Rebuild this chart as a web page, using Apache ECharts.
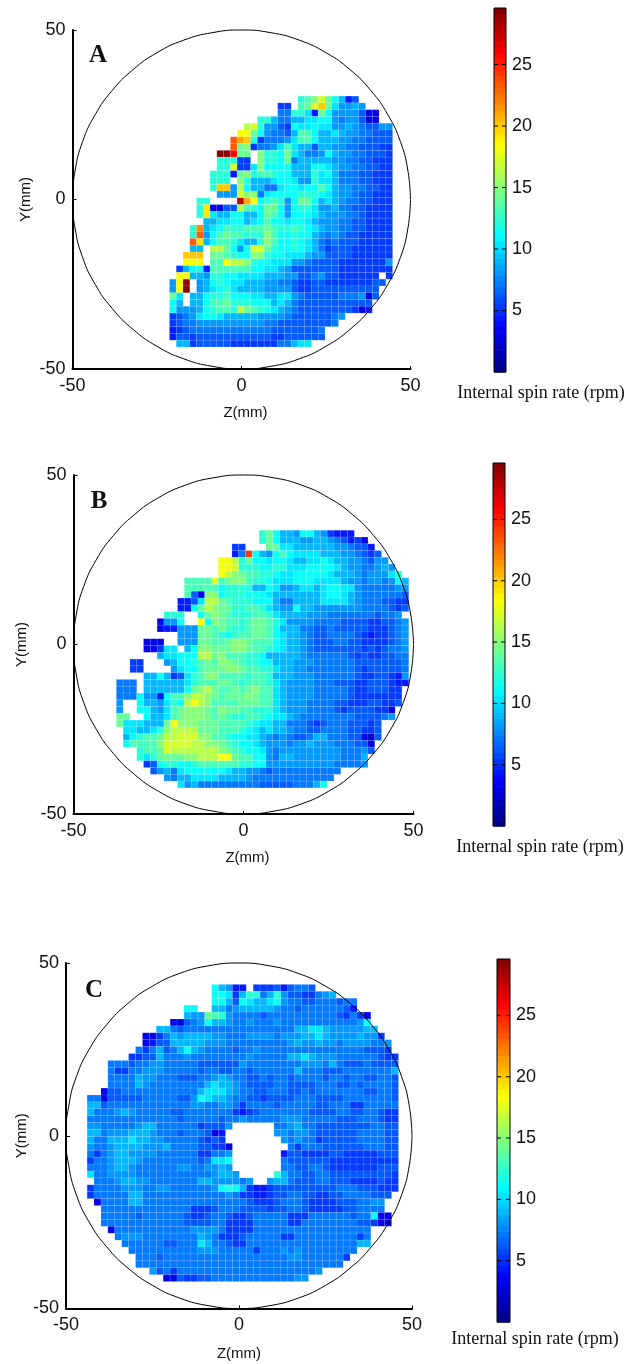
<!DOCTYPE html>
<html><head><meta charset="utf-8">
<style>html,body{margin:0;padding:0;background:#fff}#c{width:640px;height:1364px}</style>
<script src="https://cdn.jsdelivr.net/npm/echarts@6/dist/echarts.min.js"></script>
</head><body><div id="c"></div>
<script>
// Internal spin rate (rpm) on a 2 mm grid. 0 = no reading. Each row: first column index, then values.
const startA=[19,16,16,13,11,10,9,9,7,7,7,6,6,6,7,4,4,4,5,3,3,3,3,2,2,1,1,0,0,0,0,0,0,0,0,0,1];
const rowsA=[
[12,13,15,17,14,11,9,4,6],
[5,5,0,13,14,17,20,14,10,8,8,9,8],
[7,7,12,12,10,4,14,11,8,8,8,8,6,3,3],
[12,12,9,7,7,9,9,10,10,11,11,8,7,8,8,6,3,3],
[16,17,12,8,8,6,5,11,10,10,11,10,10,8,8,9,8,7,6,6,8,8],
[18,18,14,11,8,7,7,6,9,13,13,11,9,9,10,9,8,8,7,7,6,6,6],
[23,21,20,12,5,7,7,7,8,10,13,13,11,9,9,9,8,8,7,7,6,6,6,6],
[23,14,15,5,7,7,8,10,13,10,9,9,6,9,9,8,8,7,7,6,6,6,5,5],
[29,29,26,14,14,0,15,12,12,11,14,10,9,7,7,8,11,9,8,8,7,7,6,6,6,5],
[12,12,12,5,5,0,15,12,12,11,14,7,9,9,9,9,9,8,8,7,7,6,6,5,5,5],
[12,12,17,5,5,10,15,11,11,11,11,9,9,9,11,11,10,9,8,8,7,7,6,6,5,5],
[12,12,12,4,14,15,12,13,13,12,11,11,9,9,9,12,10,11,9,7,7,7,6,6,5,5,5],
[12,12,12,0,15,12,9,9,9,10,11,11,10,8,8,12,10,10,9,7,7,7,6,6,5,5,5],
[12,20,20,8,16,11,9,9,7,7,10,11,11,10,11,11,13,11,9,8,8,7,7,6,6,5,5],
[8,8,8,17,15,15,7,10,11,11,11,11,12,12,12,11,10,9,8,8,7,6,6,5,5,5],
[12,12,0,0,0,0,28,21,18,11,12,13,12,8,11,14,14,11,9,10,9,8,7,7,6,6,5,5,5],
[12,19,3,3,6,6,16,13,12,11,14,14,11,8,11,12,12,10,8,8,9,7,7,6,6,5,5,5,5],
[12,19,10,9,9,11,11,9,9,11,14,13,11,8,11,11,11,10,9,8,8,8,7,7,6,5,5,5,5],
[9,9,10,10,11,11,9,10,11,13,11,11,10,11,11,10,9,8,8,8,7,7,6,6,5,5,5,5],
[12,22,9,10,11,13,12,12,13,13,13,14,13,12,12,13,12,11,10,9,8,8,7,7,6,6,5,5,5,5],
[12,23,8,11,13,14,13,13,12,12,12,15,13,11,11,12,11,11,9,8,7,8,7,6,6,5,5,5,5,5],
[23,19,9,11,13,13,12,10,9,9,12,15,13,11,11,12,11,10,9,7,6,7,6,6,6,5,5,5,5,5],
[9,9,0,16,16,14,11,8,11,17,17,14,12,11,11,12,11,10,9,7,5,6,6,6,5,5,5,5,5,5],
[20,20,20,0,14,14,13,12,11,11,15,15,12,11,11,10,10,10,9,8,8,6,6,6,6,5,5,5,5,5,5],
[18,18,18,0,13,13,18,16,16,15,12,11,11,10,10,10,8,8,7,6,6,6,6,5,5,5,5,5,5,5,8],
[5,9,11,11,4,13,13,13,13,13,13,11,11,10,10,9,8,6,6,6,6,6,6,6,5,5,5,5,5,5,5,5],
[18,18,9,9,8,12,12,11,11,10,10,10,10,9,9,9,8,8,6,6,7,8,6,6,5,5,5,5,5,5,0,5],
[8,18,29,0,8,9,11,12,11,10,10,9,9,9,8,8,7,7,6,5,5,6,6,5,5,5,5,5,5,5,6,6],
[8,18,29,0,8,9,10,11,12,10,9,9,9,9,8,8,8,8,6,5,5,6,6,6,6,6,6,6,6,6,6],
[14,10,0,9,9,11,12,12,13,11,11,11,10,10,9,9,10,10,8,7,6,6,6,6,6,7,7,7,8,3,6],
[11,9,0,9,9,11,13,13,14,12,12,12,11,11,11,9,10,9,7,6,6,6,6,6,6,6,6,6,6,6],
[11,8,8,8,9,11,12,13,13,12,16,14,13,12,11,10,9,8,7,6,6,6,6,6,6,6,6,5,3,4],
[5,6,7,8,10,11,11,10,9,9,9,9,9,8,8,8,8,7,6,6,6,6,6,6,7,8],
[5,6,7,7,8,8,8,8,8,8,8,8,8,8,7,7,6,6,6,6,6,6,6,6,7],
[4,5,6,7,7,7,7,7,7,7,7,7,7,7,7,6,6,6,6,6,6,6,7],
[4,6,6,5,6,6,6,6,6,6,6,6,6,6,6,5,5,6,6,6,6,6,6],
[9,9,5,6,6,6,6,6,5,5,5,5,5,5,5,7,7,9,10,10]
];
const startB=[21,21,17,17,15,15,15,10,10,10,9,9,7,6,6,9,4,4,6,2,2,4,0,0,0,0,0,0,0,1,1,1,3,3,4,5,7,9];
const rowsB=[
[12,14,11,9,9,8,11,11,9,8,5,4,4,4],
[12,14,11,9,9,9,8,8,9,9,8,7,6,4,5,3],
[5,5,0,0,0,14,14,10,10,9,9,9,9,9,9,8,8,7,6,6,4],
[4,7,24,11,9,8,11,13,11,10,10,10,10,9,9,9,8,8,7,6,5,6],
[18,18,16,12,14,11,11,10,11,11,10,9,9,10,10,11,10,9,9,8,8,7,6,8,8],
[18,18,17,12,12,12,11,11,12,12,10,10,10,11,11,11,11,10,9,8,8,7,7,8,9,8],
[18,16,15,14,13,13,12,12,11,10,10,11,11,11,11,11,10,9,9,9,8,7,8,8,8,10,12],
[13,13,13,13,17,13,14,15,15,13,12,12,11,10,10,10,11,11,11,10,10,10,10,9,8,8,7,8,8,7,8,11,9],
[13,13,13,13,13,11,12,12,12,12,9,9,11,10,8,8,9,10,10,9,10,11,11,10,10,8,7,7,7,7,7,8,8],
[13,6,3,15,15,11,12,12,12,11,11,11,10,9,9,9,9,9,9,9,10,11,11,10,9,8,7,7,7,7,7,7,6],
[4,4,6,10,16,16,14,13,12,12,12,11,11,11,9,7,7,9,9,9,9,10,10,10,10,9,8,7,7,7,6,6,5,5],
[4,4,11,14,16,15,14,14,12,12,13,13,12,10,9,8,8,11,9,9,8,8,8,8,8,8,8,7,7,7,7,6,5,6],
[12,12,12,0,0,11,14,15,14,13,12,12,12,13,13,12,10,9,9,9,9,8,8,8,7,7,7,7,7,7,7,6,7,7,8],
[3,8,8,11,0,0,18,11,15,14,13,13,12,13,14,14,13,12,10,8,8,8,8,7,7,7,7,6,6,6,6,5,5,6,6,7,8],
[3,4,4,8,8,8,14,14,13,14,13,12,12,13,14,14,13,11,9,9,9,7,7,6,6,7,6,6,6,6,6,5,5,5,6,7,8],
[8,8,8,14,14,13,12,11,12,13,13,14,14,13,11,10,9,9,8,7,6,6,7,7,7,7,6,5,4,5,5,6,7,8],
[3,3,3,0,0,8,8,8,14,14,13,13,14,15,15,14,13,13,13,11,10,9,9,8,7,6,6,6,7,7,6,6,5,5,5,5,6,7,8],
[3,3,5,10,10,0,9,11,15,15,14,14,14,15,15,14,13,13,12,11,10,9,9,8,7,6,6,6,6,6,6,6,5,6,5,6,7,7,8],
[9,10,10,11,11,11,16,16,14,15,13,13,13,12,12,11,9,9,9,9,9,8,7,7,7,7,7,7,6,5,6,5,5,6,6,7,7],
[5,5,0,0,0,8,9,11,11,12,13,14,13,15,15,14,13,12,12,11,11,9,9,9,8,8,8,7,7,7,7,7,7,6,6,6,6,6,6,6,7],
[5,5,0,0,0,0,8,10,11,11,13,14,14,14,15,15,14,13,13,12,12,10,9,9,8,8,7,7,7,7,7,7,7,6,5,6,6,6,6,6,7],
[9,9,11,9,5,6,10,12,13,15,15,13,13,13,13,12,13,13,12,9,9,9,8,8,8,7,7,7,7,7,7,6,5,5,6,6,5,4,8],
[7,7,7,0,9,9,9,9,9,9,10,12,13,13,13,14,14,13,12,13,13,13,12,10,9,8,8,8,8,7,7,7,6,6,6,5,5,6,6,6,5,4,4],
[7,7,7,0,9,9,9,9,9,9,11,14,15,16,14,13,13,14,13,14,15,13,13,10,9,8,8,8,8,7,7,7,7,7,6,5,5,6,6,6,5,5],
[7,7,7,11,8,8,4,11,13,13,15,16,16,15,14,13,14,14,14,15,14,13,13,10,9,8,8,8,8,7,7,7,7,7,6,5,5,5,5,5,5,5],
[8,0,0,11,9,9,8,10,12,11,16,18,16,15,13,13,13,13,14,14,14,13,13,10,9,8,8,8,7,7,7,7,6,6,5,5,5,6,6,5,5,6],
[8,0,0,11,11,9,8,10,13,14,15,15,15,14,13,15,14,14,13,13,12,12,12,10,9,8,8,8,7,7,7,7,6,5,6,6,6,6,5,5,3],
[14,14,0,0,11,9,9,10,13,14,15,15,15,14,13,14,13,12,12,13,13,12,11,10,10,9,8,7,7,7,7,7,7,7,7,6,6,6,6,7,8],
[14,10,10,10,9,9,9,14,18,15,15,15,14,14,14,13,13,13,13,12,11,10,10,9,9,7,7,7,6,5,6,7,7,7,6,6,6,5,6],
[10,10,9,9,10,12,15,16,16,16,16,14,14,14,13,13,13,12,11,10,9,10,9,9,8,7,7,6,6,7,7,7,7,6,6,5,5,6],
[9,11,12,13,13,14,16,16,17,17,17,15,15,13,13,12,11,11,10,10,9,8,7,8,7,6,6,7,9,9,7,7,7,6,6,3,2,6],
[11,13,13,13,13,15,17,17,17,17,16,16,15,15,14,13,12,11,11,10,9,8,8,8,7,8,8,9,8,8,8,7,7,7,6,6,3],
[12,13,13,14,17,16,16,16,16,16,16,16,15,14,13,12,11,11,10,8,7,8,8,8,8,8,8,8,8,8,7,7,7,8,6],
[12,10,12,14,14,14,14,15,15,16,16,16,18,18,14,13,13,11,11,8,7,9,9,8,8,8,8,8,8,8,7,7,7,9],
[5,6,11,12,12,11,11,12,13,13,13,13,13,13,12,12,11,11,8,8,8,8,8,8,8,8,8,8,7,7,7,7,8],
[6,8,9,7,10,11,11,11,11,11,11,10,9,9,8,8,7,6,7,7,7,7,7,7,7,7,7,7],
[8,7,9,9,10,10,10,10,9,9,9,9,8,7,7,7,7,7,7,7,7,7,7,7,7],
[10,8,9,7,7,7,7,7,7,7,7,7,6,6,6,6,6,7,7,7,9,11]
];
const startC=[18,18,18,14,14,12,10,8,8,7,6,3,3,3,3,2,0,0,0,0,0,0,0,0,0,0,0,0,1,0,0,1,2,2,2,3,4,5,6,7,7,9,11];
const rowsC=[
[11,9,8,4,4,0,5,5,5,6,4,6,7,7,6],
[11,11,10,5,9,12,12,7,9,12,8,6,6,5,5,7,8,9],
[11,11,9,6,11,10,9,9,10,11,8,7,7,6,6,7,7,7,6,7,7],
[11,11,0,0,9,9,7,8,9,9,9,9,9,8,7,7,6,7,7,7,7,7,7,6,4],
[9,8,8,14,13,12,8,7,7,7,7,6,7,7,7,7,7,7,7,7,7,7,6,5,7,5,3],
[3,3,6,7,8,11,9,9,8,7,7,8,7,7,7,8,7,7,7,7,7,7,7,7,7,7,7,8,11],
[9,9,7,6,7,7,7,7,7,7,7,7,7,7,7,7,7,7,7,7,9,9,10,10,9,8,8,8,8,8,9,9],
[3,3,5,7,9,8,9,9,9,9,8,8,7,7,7,8,8,8,8,7,8,8,8,9,9,10,9,8,8,8,8,9,8,8,5],
[3,4,6,6,9,9,9,9,9,8,8,8,7,7,7,7,7,7,7,7,7,8,9,8,8,9,8,8,7,8,8,8,8,7,7,8],
[7,5,7,9,6,7,9,11,9,8,7,7,7,7,6,7,7,8,7,7,7,7,7,7,7,7,7,7,7,7,7,7,7,6,6,6,5],
[5,5,6,6,9,7,7,7,8,7,7,7,7,7,7,7,7,8,7,7,7,7,7,9,9,10,9,8,8,8,7,7,7,7,7,7,6,5,5],
[7,7,7,6,7,7,8,8,7,7,7,7,7,6,6,6,6,6,6,8,7,7,7,7,7,7,7,7,8,8,8,7,9,7,6,6,6,7,6,6,6,6],
[7,5,5,7,7,8,8,8,7,7,7,7,7,6,7,7,6,6,7,7,6,7,7,7,7,7,7,9,7,7,7,6,6,6,7,7,7,7,7,7,7,9],
[7,7,7,7,9,8,8,7,7,7,6,6,6,7,7,8,9,8,7,7,6,6,7,6,7,7,6,7,7,7,7,6,7,7,6,7,7,6,6,7,7,6],
[7,7,7,7,9,8,7,7,7,7,7,7,7,7,9,10,9,9,8,7,6,6,6,6,7,7,6,6,6,6,7,7,7,6,6,7,6,7,7,7,7,6],
[3,6,6,7,7,7,7,7,7,7,7,7,7,7,9,10,10,10,9,8,7,7,6,6,7,7,7,6,6,7,6,7,7,7,7,7,7,7,6,6,7,7,6],
[7,7,3,6,6,6,6,6,7,7,7,7,7,6,6,8,11,10,9,9,8,7,7,6,6,5,6,6,6,6,7,7,7,6,6,6,6,7,7,7,7,7,7,7,6],
[9,9,6,7,7,7,7,7,7,7,7,7,7,7,7,8,8,7,7,8,8,7,5,7,7,7,7,6,7,7,7,7,7,6,6,7,7,7,5,5,7,7,7,7,7],
[9,7,7,7,8,9,8,7,7,7,7,7,6,6,7,7,7,7,7,7,7,5,4,5,6,7,7,7,7,7,7,7,6,6,6,6,7,7,6,6,7,7,6,5,5],
[7,7,7,7,7,7,7,7,7,7,7,7,7,6,7,7,7,7,7,6,7,7,8,7,7,7,7,7,8,8,8,7,7,7,7,7,6,6,6,7,7,7,6,5,5],
[8,8,7,7,7,7,7,8,9,9,7,7,7,7,7,7,5,6,6,6,8,0,0,0,0,0,0,7,7,8,9,7,7,6,6,6,6,6,6,6,6,7,7,6,6],
[9,9,7,8,8,8,9,9,9,8,7,7,7,6,7,7,7,6,3,4,0,0,0,0,0,0,0,8,8,7,8,8,7,6,6,6,6,6,6,7,7,7,7,6,6],
[9,7,7,9,9,9,10,9,9,8,8,7,7,7,7,7,6,5,6,5,0,0,0,0,0,0,0,0,8,7,8,7,7,5,6,6,6,6,6,7,7,7,7,6,6],
[8,7,7,8,9,9,9,9,8,8,8,9,7,7,7,7,6,6,5,5,3,0,0,0,0,0,0,0,0,7,5,7,7,7,6,6,6,6,6,6,7,7,7,6,6],
[7,5,7,8,9,9,8,8,8,8,7,7,7,7,7,7,5,5,7,7,8,0,0,0,0,0,0,0,4,6,6,5,5,5,5,6,6,5,5,5,5,5,6,6,6],
[5,7,7,8,9,9,9,8,7,7,7,7,7,7,7,7,6,7,10,10,11,0,0,0,0,0,0,0,7,6,6,6,6,6,6,5,5,5,5,5,5,5,5,5,5],
[7,7,7,8,9,9,8,7,7,7,7,7,7,8,8,7,7,8,8,9,8,0,0,0,0,0,0,0,7,7,6,6,7,7,6,5,5,5,5,5,5,5,6,6,6],
[10,7,7,8,8,8,8,7,7,7,7,7,7,7,7,7,7,7,8,9,9,8,0,0,0,0,0,12,9,7,7,6,6,7,7,6,6,6,6,6,6,6,6,6,5],
[7,7,7,8,9,9,8,8,7,7,7,7,7,7,7,9,9,8,8,8,8,7,8,0,0,8,9,9,7,6,6,6,7,7,6,6,6,5,5,5,5,6,5,5],
[5,7,7,7,7,8,8,8,7,7,8,8,7,7,7,7,7,7,8,11,12,11,9,5,4,4,5,6,6,6,6,6,6,6,6,6,7,7,7,6,6,6,5,5,5],
[5,7,7,7,7,7,9,9,7,7,7,7,7,7,7,7,7,7,7,7,8,7,5,5,4,4,5,6,6,7,7,6,6,5,5,6,6,7,7,7,7,6,6,6],
[3,7,7,7,7,9,9,7,7,7,7,7,7,7,7,7,7,7,7,7,7,7,6,5,5,5,6,7,7,7,6,5,5,5,5,6,6,6,7,7,8,8],
[7,7,7,7,7,7,7,7,7,7,7,7,7,5,5,5,6,7,7,7,6,6,6,6,5,6,6,7,7,6,5,5,5,5,5,6,6,7,7,7,7],
[7,7,7,7,7,6,7,7,7,7,7,7,6,5,5,6,7,7,6,5,5,6,7,7,7,7,7,5,5,5,7,7,7,7,7,7,6,7,7,11,3,3],
[7,7,7,7,7,7,7,7,7,7,7,7,6,6,6,6,7,7,5,5,5,5,7,7,7,7,7,5,5,7,7,7,7,7,7,7,7,6,6,5,3,3],
[3,7,7,7,7,7,7,7,7,7,7,7,8,8,8,8,7,5,5,5,5,7,7,7,7,7,7,7,7,7,7,7,7,7,7,7,7,7],
[7,8,8,8,7,7,7,7,7,7,7,7,9,8,7,5,5,5,6,7,7,7,7,7,5,5,7,7,7,7,7,7,7,7,7,5,7],
[7,7,7,7,7,7,6,6,7,7,7,10,9,7,7,6,5,5,7,7,7,7,7,7,7,7,7,7,7,7,7,7,7,7,9,9],
[7,7,7,7,7,7,7,7,7,7,8,8,8,7,7,7,7,7,5,7,7,7,8,7,8,7,7,7,7,7,7,7,7],
[7,7,7,6,7,7,7,7,7,7,7,7,7,7,7,7,7,7,7,7,7,7,8,8,7,7,7,7,7,7,5],
[7,7,7,7,7,7,7,7,7,7,7,7,7,7,7,7,7,7,7,7,7,7,7,7,7,7,7,7,7,7],
[8,6,7,5,7,7,7,7,7,7,7,7,7,7,7,7,7,7,7,7,7,7,7,7,8],
[3,3,6,5,5,6,6,7,7,7,7,7,7,7,7,7,7,7,7,8,8]
];
const tickValues=[5,10,15,20,25];
const axisTicks=[-50,0,50];
const circleZ=[50,49.2,47,43.3,38.3,32.1,25,17.1,8.7,0,-8.7,-17.1,-25,-32.1,-38.3,-43.3,-47,-49.2,-50,-49.2,-47,-43.3,-38.3,-32.1,-25,-17.1,-8.7,0,8.7,17.1,25,32.1,38.3,43.3,47,49.2,50];
const circleY=[0,8.7,17.1,25,32.1,38.3,43.3,47,49.2,50,49.2,47,43.3,38.3,32.1,25,17.1,8.7,0,-8.7,-17.1,-25,-32.1,-38.3,-43.3,-47,-49.2,-50,-49.2,-47,-43.3,-38.3,-32.1,-25,-17.1,-8.7,0];
const panelLabels=['A','B','C'];
const barLabel='Internal spin rate (rpm)';

const CMAX=29.6, LEVELS=64, READ_CAL=0.2;
function jet(v){
  const t=Math.min(.999,Math.max(0,v/CMAX)), q=(Math.floor(t*LEVELS)+.5)/LEVELS;
  const f=x=>Math.round(255*Math.min(1,Math.max(0,1.5-Math.abs(4*q-x))));
  return 'rgb('+f(3)+','+f(2)+','+f(1)+')';
}
const panels=[
 {rows:rowsA,starts:startA,z0:-21.3,y0:30.5,l:72.5,t:30,w:338,h:339,cl:494,ct:8,cw:12,ch:364,lx:98,ly:56,ix:541,iy:393,yg:39,xg:36,zp:8},
 {rows:rowsB,starts:startB,z0:-37.4,y0:33.7,l:73.5,t:475,w:340,h:339,cl:493,ct:463,cw:12,ch:363,lx:99,ly:502,ix:540,iy:847,yg:44,xg:36,zp:8},
 {rows:rowsC,starts:startC,z0:-43.9,y0:43.8,l:66,t:963,w:346,h:345.5,cl:497,ct:959,cw:13,ch:363,lx:94,ly:991,ix:535,iy:1339,yg:37,xg:38,zp:0}
];
const STEP=2;
const levels=[];for(let i=0;i<LEVELS;i++)levels.push(i*CMAX/LEVELS);
function cells(p){
  const out=[];
  p.rows.forEach((row,r)=>{row.forEach((v,i)=>{
    if(v>0) out.push([p.z0+STEP*(p.starts[r]+i),p.y0-STEP*r,v]);
  });});
  return out;
}
function cellItem(params,api){
  const a=api.coord([api.value(0),api.value(1)]), b=api.coord([api.value(0)+STEP,api.value(1)-STEP]);
  const c=jet(api.value(2)+READ_CAL);
  return {type:'group',silent:true,children:[
    {type:'rect',shape:{x:a[0],y:a[1],width:b[0]-a[0],height:b[1]-a[1]},style:{fill:c,stroke:'rgba(255,255,255,0.1)',lineWidth:1}},
    {type:'line',shape:{x1:a[0],y1:b[1],x2:b[0],y2:a[1]},style:{stroke:'rgba(255,255,255,0.2)',lineWidth:.8,lineDash:[1,1.5]}}
  ]};
}
function barItem(params,api){
  const v=api.value(0), a=api.coord([0,v+CMAX/LEVELS]), b=api.coord([1,v]);
  return {type:'rect',silent:true,shape:{x:a[0],y:a[1],width:b[0]-a[0],height:b[1]-a[1]+.6},style:{fill:jet(v+CMAX/LEVELS/2)}};
}
function barFrame(params,api){
  const a=api.coord([0,CMAX]), b=api.coord([1,0]);
  return {type:'rect',silent:true,shape:{x:a[0],y:a[1],width:b[0]-a[0],height:b[1]-a[1]},style:{fill:'none',stroke:'#000',lineWidth:1}};
}
function barTick(params,api){
  const a=api.coord([0,api.value(0)]), b=api.coord([1,api.value(0)]);
  return {type:'group',silent:true,children:[
    {type:'line',shape:{x1:a[0],y1:a[1],x2:a[0]+4,y2:a[1]},style:{stroke:'#000',lineWidth:1}},
    {type:'line',shape:{x1:b[0]-4,y1:b[1],x2:b[0],y2:b[1]},style:{stroke:'#000',lineWidth:1}}
  ]};
}
const txt={color:'#111',fontFamily:'"Liberation Sans",Arial,sans-serif',fontSize:18};
const grid=[],xAxis=[],yAxis=[],series=[],title=[];
panels.forEach((p,i)=>{
  const g=i*2,gb=i*2+1;
  grid.push({left:p.l,top:p.t,width:p.w,height:p.h});
  grid.push({left:p.cl,top:p.ct,width:p.cw,height:p.ch});
  const line={lineStyle:{color:'#000',width:2}};
  xAxis.push({gridIndex:g,type:'value',min:-50,max:50,interval:50,name:'Z(mm)',nameLocation:'middle',nameGap:p.xg,
    nameTextStyle:{...txt,fontSize:15,padding:[0,0,0,p.zp]},axisLine:{show:true,onZero:false,...line},axisTick:{show:true,inside:true,length:3,lineStyle:{color:'#000',width:1}},
    axisLabel:{...txt,margin:8,showMinLabel:true,showMaxLabel:true,customValues:axisTicks},splitLine:{show:false}});
  yAxis.push({gridIndex:g,type:'value',min:-50,max:50,interval:50,name:'Y(mm)',nameLocation:'middle',nameGap:p.yg,nameRotate:90,nameMoveOverlap:false,
    nameTextStyle:{...txt,fontSize:15},axisLine:{show:true,onZero:false,...line},axisTick:{show:true,inside:true,length:4,lineStyle:{color:'#000',width:1}},
    axisLabel:{...txt,margin:7,showMinLabel:true,showMaxLabel:true,customValues:axisTicks},splitLine:{show:false}});
  xAxis.push({gridIndex:gb,type:'value',min:0,max:1,show:false});
  yAxis.push({gridIndex:gb,type:'value',min:0,max:CMAX,position:'right',
    axisLine:{show:false},axisTick:{show:false},
    axisLabel:{...txt,margin:6,customValues:tickValues},splitLine:{show:false}});
  series.push({type:'custom',xAxisIndex:g,yAxisIndex:g,clip:false,silent:true,progressive:0,animation:false,
    renderItem:cellItem,encode:{x:0,y:1},data:cells(p),z:2});
  series.push({type:'line',xAxisIndex:g,yAxisIndex:g,showSymbol:false,symbol:'none',clip:false,silent:true,smooth:0.5,animation:false,
    lineStyle:{color:'#000',width:1},data:circleZ.map((z,k)=>[z,circleY[k]]),z:3});
  series.push({type:'custom',xAxisIndex:gb,yAxisIndex:gb,silent:true,progressive:0,animation:false,
    renderItem:barItem,encode:{y:0},data:levels.map(v=>[v]),z:2});
  series.push({type:'custom',xAxisIndex:gb,yAxisIndex:gb,silent:true,animation:false,
    renderItem:barFrame,encode:{y:0},data:[[0]],z:3});
  series.push({type:'custom',xAxisIndex:gb,yAxisIndex:gb,silent:true,animation:false,
    renderItem:barTick,encode:{y:0},data:tickValues.map(v=>[v]),z:4});
  title.push({text:panelLabels[i],left:p.lx,top:p.ly,textAlign:'center',textVerticalAlign:'middle',padding:0,
    textStyle:{fontFamily:'"Liberation Serif",serif',fontWeight:'bold',fontSize:25,color:'#111'}});
  title.push({text:barLabel,left:p.ix,top:p.iy,textAlign:'center',textVerticalAlign:'middle',padding:0,
    textStyle:{fontFamily:'"Liberation Serif",serif',fontWeight:'normal',fontSize:18,color:'#111'}});
});
const chart=echarts.init(document.getElementById('c'),null,{renderer:'canvas'});
chart.setOption({animation:false,backgroundColor:'#fff',title,grid,xAxis,yAxis,series});
</script></body></html>
